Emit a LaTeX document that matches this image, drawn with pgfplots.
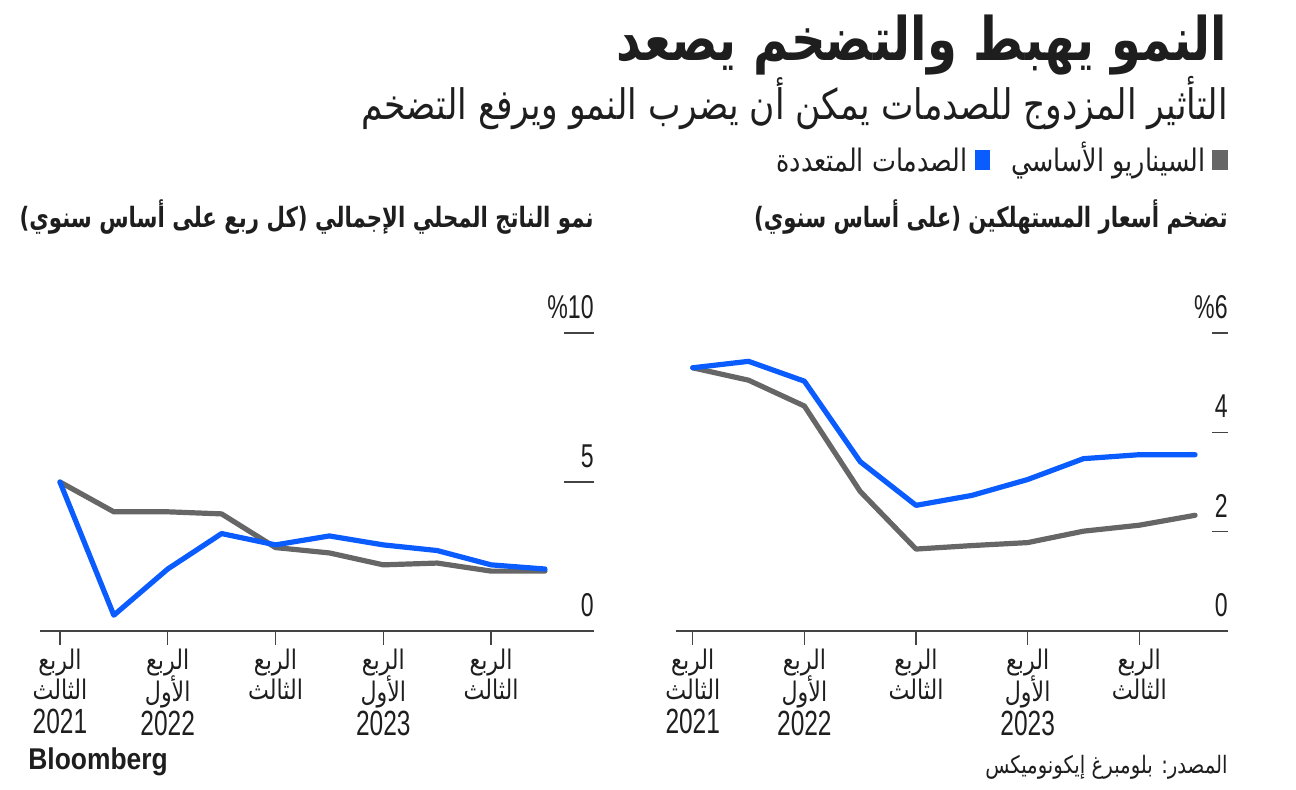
\documentclass[border=0pt]{standalone}
\usepackage{pgfplots}
\pgfplotsset{compat=1.18}
\usepackage{fontspec}
\setmainfont{Liberation Sans}
\TeXXeTstate=1
\newfontfamily\arabicfont[Script=Arabic,FakeStretch=0.82]{DejaVu Sans}
\newfontfamily\arabicbold[Script=Arabic,FakeStretch=0.8]{DejaVu Sans Bold}
\newfontfamily\arabicboldn[Script=Arabic,FakeStretch=0.76]{DejaVu Sans Bold}
\newfontfamily\numfont[FakeStretch=0.7]{Liberation Sans}
\newfontfamily\logofont[FakeStretch=0.88]{Liberation Sans Bold}
\newcommand{\AR}[1]{{\arabicfont\beginR #1\endR}}
\newcommand{\ARB}[1]{{\arabicbold\beginR #1\endR}}
\newcommand{\ARBN}[1]{{\arabicboldn\beginR #1\endR}}
\newcommand{\yr}[1]{{\numfont\fontsize{17.5}{20}\selectfont #1}}
\definecolor{cblue}{HTML}{0A5CFF}
\definecolor{cgrey}{HTML}{666666}
\definecolor{axgrey}{HTML}{444444}
\definecolor{txt}{HTML}{1E1E1E}

\pgfplotstableread{
x gdpbase gdpshock cpibase cpishock
0 5.00 5.00 5.30 5.30
1 4.00 0.53 5.05 5.43
2 4.00 2.08 4.53 5.03
3 3.93 3.27 2.81 3.41
4 2.80 2.89 1.65 2.53
5 2.62 3.19 1.72 2.73
6 2.22 2.89 1.78 3.05
7 2.28 2.70 2.01 3.47
8 2.01 2.22 2.13 3.55
9 2.01 2.08 2.33 3.55
}\datatable

\pgfplotsset{panel/.style={
  scale only axis, clip=false,
  axis x line*=bottom, axis y line*=right,
  y axis line style={draw=none},
  x axis line style={-, line width=1pt, color=axgrey},
  tick align=outside, major tick length=7pt,
  xtick={0,2,4,6,8},
  xtick style={line width=0.7pt, color=axgrey},
  ytick style={draw=none},
  xticklabels={{\AR{الربع}\\[-1pt]\AR{الثالث}\\[1pt]\yr{2021}},{\AR{الربع}\\[-1pt]\AR{الأول}\\[1pt]\yr{2022}},{\AR{الربع}\\[-1pt]\AR{الثالث}},{\AR{الربع}\\[-1pt]\AR{الأول}\\[1pt]\yr{2023}},{\AR{الربع}\\[-1pt]\AR{الثالث}}},
  xticklabel style={align=center, anchor=north, yshift=1.5pt, text=txt,
     font=\fontsize{13.5}{16}\selectfont},
  yticklabel style={anchor=south east, inner sep=0pt, xshift=-7pt, yshift=7pt, text=txt,
     font=\numfont\fontsize{16.5}{18}\selectfont},
  every axis plot/.append style={line width=2.6pt, line join=round, line cap=round},
}}

\begin{document}
\begin{tikzpicture}
\useasboundingbox (0,0) rectangle (648pt,394.5pt);
% titles
\node[anchor=east, inner sep=0pt, text=txt, font=\fontsize{30}{34}\selectfont] at (614pt,372pt) {\ARB{النمو يهبط والتضخم يصعد}};
\node[anchor=east, inner sep=0pt, text=txt, font=\fontsize{21}{24}\selectfont] at (614pt,343pt) {\AR{التأثير المزدوج للصدمات يمكن أن يضرب النمو ويرفع التضخم}};
% legend
\fill[cgrey] (606pt,309.5pt) rectangle (614pt,319.5pt);
\node[anchor=east, inner sep=0pt, text=txt, font=\fontsize{15.5}{18}\selectfont] at (603pt,314.5pt) {\AR{السيناريو الأساسي}};
\fill[cblue] (487.5pt,309.5pt) rectangle (495pt,319.5pt);
\node[anchor=east, inner sep=0pt, text=txt, font=\fontsize{15.5}{18}\selectfont] at (484pt,314.5pt) {\AR{الصدمات المتعددة}};
% panel titles
\node[anchor=east, inner sep=0pt, text=txt, font=\fontsize{14}{16}\selectfont] at (614pt,286pt) {\ARBN{تضخم أسعار المستهلكين (على أساس سنوي)}};
\node[anchor=east, inner sep=0pt, text=txt, font=\fontsize{14}{16}\selectfont] at (297pt,286pt) {\ARBN{نمو الناتج المحلي الإجمالي (كل ربع على أساس سنوي)}};

% left panel: GDP
\begin{axis}[panel, at={(20pt,79pt)}, anchor=south west,
  width=277pt, height=149pt,
  xmin=-0.37, xmax=9.91, ymin=0, ymax=10,
  ytick={0,5,10}, yticklabels={0,5,\%10}]
\addplot[cgrey] table[x=x,y=gdpbase]{\datatable};
\addplot[cblue] table[x=x,y=gdpshock]{\datatable};
\draw[axgrey, line width=0.8pt] (axis cs:9.91,5) -- (axis cs:9.35,5);
\draw[axgrey, line width=0.8pt] (axis cs:9.91,10) -- (axis cs:9.35,10);
\end{axis}

% right panel: CPI
\begin{axis}[panel, at={(338pt,79pt)}, anchor=south west,
  width=276pt, height=149pt,
  xmin=-0.30, xmax=9.59, ymin=0, ymax=6,
  ytick={0,2,4,6}, yticklabels={0,2,4,\%6}]
\addplot[cgrey] table[x=x,y=cpibase]{\datatable};
\addplot[cblue] table[x=x,y=cpishock]{\datatable};
\draw[axgrey, line width=0.8pt] (axis cs:9.59,2) -- (axis cs:9.31,2);
\draw[axgrey, line width=0.8pt] (axis cs:9.59,4) -- (axis cs:9.31,4);
\draw[axgrey, line width=0.8pt] (axis cs:9.59,6) -- (axis cs:9.31,6);
\end{axis}

% footer
\node[anchor=west, inner sep=0pt, text=txt, font=\logofont\fontsize{15}{17}\selectfont] at (14pt,13.5pt) {Bloomberg};
\node[anchor=east, inner sep=0pt, text=txt, font=\fontsize{12}{14}\selectfont] at (614pt,11pt) {\AR{المصدر: بلومبرغ إيكونوميكس}};
\end{tikzpicture}
\end{document}
